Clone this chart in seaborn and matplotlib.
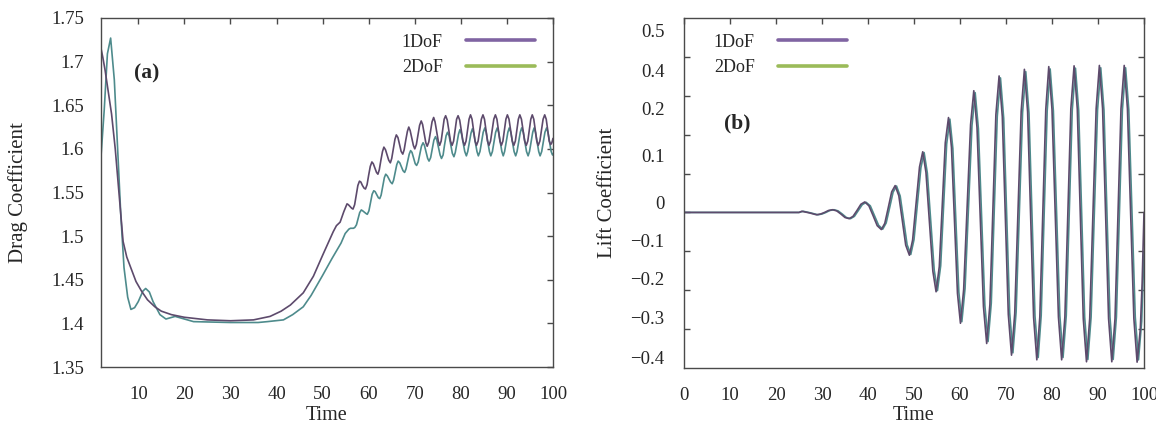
import matplotlib
matplotlib.use("Agg")
import matplotlib.pyplot as plt
import seaborn as sns
import pandas as pd
from matplotlib.lines import Line2D
from matplotlib.ticker import FixedLocator

# ---------------- data, (time, value) pairs ----------------
series_names = ["1DoF", "2DoF"]

drag_1dof = [
    (1.8, 1.718), (2.3, 1.705), (2.8, 1.690), (3.5, 1.665), (4.2, 1.640), (5.0, 1.600),
    (5.6, 1.563), (6.2, 1.525), (6.7, 1.494), (7.5, 1.476), (8.5, 1.462), (9.5, 1.448),
    (10.7, 1.437), (12.0, 1.427), (13.6, 1.419), (15.0, 1.414), (17.2, 1.410),
    (20.0, 1.407), (25.0, 1.404), (30.0, 1.403), (35.0, 1.404), (38.6, 1.408),
    (41.0, 1.414), (43.0, 1.421), (45.8, 1.435), (48.0, 1.454), (50.0, 1.478),
    (52.3, 1.505), (53.0, 1.512), (53.8, 1.516), (54.6, 1.528), (55.3, 1.537),
    (55.6, 1.536), (55.95, 1.534), (56.3, 1.532), (56.6, 1.531), (56.95, 1.536),
    (57.3, 1.547), (57.65, 1.558), (58.0, 1.563), (58.3, 1.562), (58.65, 1.558),
    (59.0, 1.555), (59.3, 1.554), (59.65, 1.559), (60.0, 1.570), (60.35, 1.580),
    (60.7, 1.585), (61.0, 1.583), (61.35, 1.578), (61.7, 1.573), (62.0, 1.571),
    (62.3, 1.576), (62.65, 1.587), (63.0, 1.597), (63.3, 1.602), (63.65, 1.599),
    (64.0, 1.593), (64.35, 1.587), (64.7, 1.584), (65.0, 1.589), (65.35, 1.600),
    (65.7, 1.611), (66.0, 1.616), (66.35, 1.613), (66.7, 1.605), (67.05, 1.597),
    (67.4, 1.594), (67.7, 1.599), (68.05, 1.610), (68.4, 1.620), (68.7, 1.625),
    (69.0, 1.621), (69.35, 1.6125), (69.7, 1.604), (70.0, 1.600), (70.35, 1.605),
    (70.7, 1.616), (71.05, 1.627), (71.4, 1.632), (71.7, 1.628), (72.05, 1.6175),
    (72.4, 1.607), (72.7, 1.603), (73.05, 1.608), (73.4, 1.6195), (73.75, 1.631),
    (74.1, 1.636), (74.4, 1.631), (74.75, 1.620), (75.1, 1.609), (75.4, 1.604),
    (75.73, 1.609), (76.05, 1.621), (76.38, 1.634), (76.7, 1.638), (77.05, 1.633),
    (77.4, 1.621), (77.75, 1.609), (78.1, 1.604), (78.43, 1.609), (78.75, 1.621),
    (79.08, 1.634), (79.4, 1.638), (79.75, 1.633), (80.1, 1.621), (80.45, 1.609),
    (80.8, 1.604), (81.13, 1.609), (81.45, 1.6215), (81.78, 1.634), (82.1, 1.639),
    (82.43, 1.634), (82.75, 1.6215), (83.08, 1.609), (83.4, 1.604), (83.75, 1.609),
    (84.1, 1.6215), (84.45, 1.634), (84.8, 1.639), (85.13, 1.634), (85.45, 1.6215),
    (85.78, 1.609), (86.1, 1.604), (86.45, 1.609), (86.8, 1.6215), (87.15, 1.634),
    (87.5, 1.639), (87.83, 1.634), (88.15, 1.6215), (88.48, 1.609), (88.8, 1.604),
    (89.13, 1.609), (89.45, 1.6215), (89.78, 1.634), (90.1, 1.639), (90.45, 1.634),
    (90.8, 1.6215), (91.15, 1.609), (91.5, 1.604), (91.83, 1.609), (92.15, 1.6215),
    (92.48, 1.634), (92.8, 1.639), (93.15, 1.634), (93.5, 1.6215), (93.85, 1.609),
    (94.2, 1.604), (94.53, 1.609), (94.85, 1.6215), (95.18, 1.634), (95.5, 1.639),
    (95.83, 1.634), (96.15, 1.6215), (96.48, 1.609), (96.8, 1.604), (97.15, 1.609),
    (97.5, 1.6215), (97.85, 1.634), (98.2, 1.639), (98.53, 1.634), (98.85, 1.6215),
    (99.18, 1.609), (99.5, 1.605), (99.75, 1.607), (100.0, 1.612),
]

drag_2dof = [
    (1.8, 1.583), (2.6, 1.644), (3.3, 1.709), (4.0, 1.727), (4.8, 1.679), (5.5, 1.602),
    (6.2, 1.525), (6.9, 1.464), (7.7, 1.430), (8.4, 1.416), (9.2, 1.418), (10.0, 1.425),
    (11.0, 1.437), (11.6, 1.440), (12.4, 1.436), (13.2, 1.425), (14.7, 1.410),
    (16.0, 1.405), (18.0, 1.408), (20.0, 1.405), (22.0, 1.402), (30.0, 1.401),
    (36.0, 1.401), (38.0, 1.402), (41.5, 1.404), (43.5, 1.410), (45.8, 1.419),
    (47.5, 1.432), (50.0, 1.455), (52.0, 1.474), (54.0, 1.492), (54.9, 1.503),
    (55.7, 1.508), (56.05, 1.509), (56.35, 1.509), (56.7, 1.509), (57.0, 1.510),
    (57.35, 1.513), (57.7, 1.520), (58.05, 1.527), (58.4, 1.530), (58.7, 1.529),
    (59.05, 1.5275), (59.4, 1.526), (59.7, 1.525), (60.05, 1.529), (60.4, 1.5385),
    (60.75, 1.548), (61.1, 1.552), (61.4, 1.551), (61.75, 1.5475), (62.1, 1.544),
    (62.4, 1.543), (62.7, 1.547), (63.05, 1.557), (63.4, 1.567), (63.7, 1.571),
    (64.05, 1.569), (64.4, 1.5655), (64.75, 1.562), (65.1, 1.560), (65.4, 1.564),
    (65.75, 1.573), (66.1, 1.582), (66.4, 1.586), (66.75, 1.584), (67.1, 1.5795),
    (67.45, 1.575), (67.8, 1.573), (68.1, 1.577), (68.45, 1.5855), (68.8, 1.594),
    (69.1, 1.598), (69.4, 1.596), (69.75, 1.5895), (70.1, 1.583), (70.4, 1.581),
    (70.75, 1.585), (71.1, 1.594), (71.45, 1.603), (71.8, 1.607), (72.1, 1.604),
    (72.45, 1.5965), (72.8, 1.589), (73.1, 1.586), (73.45, 1.590), (73.8, 1.600),
    (74.15, 1.610), (74.5, 1.614), (74.8, 1.610), (75.15, 1.6015), (75.5, 1.593),
    (75.8, 1.589), (76.15, 1.593), (76.45, 1.604), (76.8, 1.615), (77.1, 1.619),
    (77.45, 1.615), (77.8, 1.605), (78.15, 1.595), (78.5, 1.591), (78.8, 1.596),
    (79.15, 1.6065), (79.5, 1.617), (79.8, 1.622), (80.15, 1.617), (80.5, 1.607),
    (80.85, 1.597), (81.2, 1.592), (81.5, 1.597), (81.85, 1.6075), (82.2, 1.618),
    (82.5, 1.623), (82.8, 1.618), (83.15, 1.6075), (83.5, 1.597), (83.8, 1.592),
    (84.15, 1.597), (84.5, 1.608), (84.85, 1.619), (85.2, 1.624), (85.5, 1.619),
    (85.85, 1.608), (86.2, 1.597), (86.5, 1.592), (86.85, 1.597), (87.2, 1.608),
    (87.55, 1.619), (87.9, 1.624), (88.2, 1.619), (88.55, 1.608), (88.9, 1.597),
    (89.2, 1.592), (89.5, 1.597), (89.85, 1.608), (90.2, 1.619), (90.5, 1.624),
    (90.85, 1.619), (91.2, 1.608), (91.55, 1.597), (91.9, 1.592), (92.2, 1.597),
    (92.55, 1.608), (92.9, 1.619), (93.2, 1.624), (93.55, 1.619), (93.9, 1.608),
    (94.25, 1.597), (94.6, 1.592), (94.9, 1.597), (95.25, 1.608), (95.6, 1.619),
    (95.9, 1.624), (96.2, 1.619), (96.55, 1.608), (96.9, 1.597), (97.2, 1.592),
    (97.55, 1.597), (97.9, 1.608), (98.25, 1.619), (98.6, 1.624), (98.9, 1.619),
    (99.25, 1.608), (99.6, 1.597), (99.9, 1.593), (100.0, 1.594),
]

lift_1dof = [
    (0.0, 0.0), (25.0, 0.0), (25.6, 0.003), (27.2, -0.001), (28.8, -0.006), (29.7, -0.004),
    (30.55, 0.0), (31.4, 0.005), (32.3, 0.007), (33.2, 0.004), (34.1, -0.004),
    (35.0, -0.013), (35.9, -0.016), (36.75, -0.010), (37.6, 0.005), (38.45, 0.021),
    (39.3, 0.027), (40.2, 0.017), (41.1, -0.008), (42.0, -0.034), (42.9, -0.044),
    (43.65, -0.028), (44.4, 0.012), (45.15, 0.053), (45.9, 0.069), (46.7, 0.043),
    (47.45, -0.020), (48.2, -0.084), (49.0, -0.110), (49.7, -0.071), (50.45, 0.023),
    (51.2, 0.117), (51.9, 0.156), (52.6, 0.103), (53.35, -0.024), (54.1, -0.151),
    (54.8, -0.204), (55.5, -0.139), (56.15, 0.020), (56.8, 0.179), (57.5, 0.244),
    (58.15, 0.167), (58.8, -0.021), (59.45, -0.208), (60.1, -0.285), (60.8, -0.198),
    (61.55, 0.014), (62.3, 0.226), (63.0, 0.313), (63.7, 0.218), (64.4, -0.012),
    (65.1, -0.242), (65.8, -0.337), (66.5, -0.237), (67.15, 0.007), (67.8, 0.251),
    (68.5, 0.351), (69.2, 0.246), (69.85, -0.008), (70.5, -0.262), (71.2, -0.367),
    (71.9, -0.260), (72.6, 0.0), (73.3, 0.260), (74.0, 0.368), (74.7, 0.259),
    (75.35, -0.006), (76.0, -0.270), (76.7, -0.379), (77.35, -0.269), (78.0, -0.002),
    (78.65, 0.265), (79.3, 0.375), (80.0, 0.265), (80.7, -0.002), (81.4, -0.269),
    (82.1, -0.379), (82.8, -0.269), (83.45, -0.001), (84.1, 0.267), (84.8, 0.377),
    (85.5, 0.266), (86.15, -0.004), (86.8, -0.273), (87.5, -0.384), (88.2, -0.273),
    (88.9, -0.003), (89.6, 0.267), (90.3, 0.378), (91.0, 0.267), (91.65, -0.003),
    (92.3, -0.273), (93.0, -0.384), (93.7, -0.273), (94.35, -0.003), (95.0, 0.267),
    (95.7, 0.378), (96.4, 0.267), (97.1, -0.004), (97.8, -0.273), (98.5, -0.385),
    (99.2, -0.300), (99.6, -0.180), (100.0, 0.0),
]

lift_2dof = [
    (0.0, 0.0), (25.0, 0.0), (25.9, 0.003), (27.5, -0.001), (29.1, -0.006), (30.0, -0.004),
    (30.85, 0.0), (31.7, 0.005), (32.6, 0.007), (33.5, 0.004), (34.4, -0.004),
    (35.3, -0.013), (36.2, -0.016), (37.05, -0.010), (37.9, 0.005), (38.75, 0.020),
    (39.6, 0.026), (40.5, 0.017), (41.4, -0.008), (42.3, -0.033), (43.2, -0.043),
    (43.95, -0.027), (44.7, 0.012), (45.45, 0.052), (46.2, 0.068), (47.0, 0.042),
    (47.75, -0.020), (48.5, -0.083), (49.3, -0.108), (50.0, -0.070), (50.75, 0.023),
    (51.5, 0.115), (52.2, 0.154), (52.9, 0.101), (53.65, -0.024), (54.4, -0.149),
    (55.1, -0.201), (55.8, -0.137), (56.45, 0.020), (57.1, 0.176), (57.8, 0.240),
    (58.45, 0.164), (59.1, -0.021), (59.75, -0.205), (60.4, -0.281), (61.1, -0.195),
    (61.85, 0.014), (62.6, 0.223), (63.3, 0.308), (64.0, 0.215), (64.7, -0.012),
    (65.4, -0.238), (66.1, -0.332), (66.8, -0.233), (67.45, 0.007), (68.1, 0.247),
    (68.8, 0.346), (69.5, 0.242), (70.15, -0.008), (70.8, -0.258), (71.5, -0.361),
    (72.2, -0.256), (72.9, 0.0), (73.6, 0.256), (74.3, 0.362), (75.0, 0.255),
    (75.65, -0.006), (76.3, -0.266), (77.0, -0.373), (77.65, -0.265), (78.3, -0.002),
    (78.95, 0.261), (79.6, 0.369), (80.3, 0.261), (81.0, -0.002), (81.7, -0.265),
    (82.4, -0.373), (83.1, -0.265), (83.75, -0.001), (84.4, 0.263), (85.1, 0.371),
    (85.8, 0.262), (86.45, -0.004), (87.1, -0.269), (87.8, -0.378), (88.5, -0.269),
    (89.2, -0.003), (89.9, 0.263), (90.6, 0.372), (91.3, 0.263), (91.95, -0.003),
    (92.6, -0.269), (93.3, -0.378), (94.0, -0.269), (94.65, -0.003), (95.3, 0.263),
    (96.0, 0.372), (96.7, 0.263), (97.4, -0.004), (98.1, -0.269), (98.8, -0.379),
    (99.5, -0.280), (100.0, -0.100),
]

drag_yticks = [1.35, 1.40, 1.45, 1.50, 1.55, 1.60, 1.65, 1.70, 1.75]
drag_yticklabels = ["1.35", "1.4", "1.45", "1.5", "1.55", "1.6", "1.65", "1.7", "1.75"]
drag_xticks = [10, 20, 30, 40, 50, 60, 70, 80, 90, 100]
lift_xticks = [0, 10, 20, 30, 40, 50, 60, 70, 80, 90, 100]
# tick labels of panel (b) sit where the reference prints them
lift_ylabel_pos = [0.467, 0.364, 0.267, 0.146, 0.026, -0.072, -0.169, -0.269, -0.374]
lift_yticklabels = ["0.5", "0.4", "0.2", "0.1", "0", "\u22120.1", "\u22120.2",
                    "\u22120.3", "\u22120.4"]
lift_tickmarks = [-0.3, -0.2, -0.1, 0.0, 0.1, 0.2, 0.3, 0.4]


def frame(pairs, name):
    t, v = zip(*pairs)
    return pd.DataFrame({"Time": t, "C": v, "case": name})


# ---------------- style ----------------
sns.set_style("white")
plt.rcParams["font.family"] = ["Liberation Serif", "DejaVu Serif"]
plt.rcParams["axes.unicode_minus"] = True

line_colors = {"1DoF": "#5d4a6c", "2DoF": "#4e8b8c"}
legend_colors = {"1DoF": "#8064a2", "2DoF": "#9bbb59"}
spine_color = "#4a4a4a"
tick_fs = 13.5

fig = plt.figure(figsize=(11.56, 4.26), dpi=100)
W, H = 1156, 426
ax1 = fig.add_axes([100.5 / W, 1 - 367 / H, (553 - 100.5) / W, (367 - 18) / H])
ax2 = fig.add_axes([684 / W, 1 - 368 / H, (1144 - 684) / W, (368 - 18) / H])

drag_df = pd.concat([frame(drag_1dof, "1DoF"), frame(drag_2dof, "2DoF")])
lift_df = pd.concat([frame(lift_1dof, "1DoF"), frame(lift_2dof, "2DoF")])

for ax, df in ((ax1, drag_df), (ax2, lift_df)):
    sns.lineplot(data=df, x="Time", y="C", hue="case", hue_order=["2DoF", "1DoF"],
                 palette=line_colors, estimator=None, sort=False, linewidth=1.2,
                 legend=False, ax=ax)
    for s in ax.spines.values():
        s.set_color(spine_color)
        s.set_linewidth(1.0)

# ---- panel (a)
ax1.set_xlim(1.8, 100)
ax1.set_ylim(1.35, 1.75)
ax1.set_xticks(drag_xticks)
ax1.set_xticklabels([str(v) for v in drag_xticks])
ax1.set_yticks(drag_yticks)
ax1.set_yticklabels(drag_yticklabels)
ax1.tick_params(axis="both", which="major", direction="in", length=4, width=1,
                color=spine_color, top=True, right=True, labelsize=tick_fs)
ax1.tick_params(axis="y", pad=12)
ax1.tick_params(axis="x", pad=13.5)
ax1.set_ylabel("Drag Coefficient", fontsize=15)
ax1.set_xlabel("Time", fontsize=14.5)
ax1.yaxis.set_label_coords(-0.160, 0.5)
ax1.xaxis.set_label_coords(0.5, -0.112)
ax1.text(0.103, 0.842, "(a)", transform=ax1.transAxes, fontsize=15.5,
         fontweight="bold", ha="center", va="center")

# ---- panel (b)
ax2.set_xlim(0, 100)
ax2.set_ylim(-0.4, 0.5)
ax2.set_xticks(lift_xticks)
ax2.set_xticklabels([str(v) for v in lift_xticks])
ax2.yaxis.set_major_locator(FixedLocator(lift_ylabel_pos))
ax2.set_yticklabels(lift_yticklabels)
ax2.yaxis.set_minor_locator(FixedLocator(lift_tickmarks))
ax2.tick_params(axis="x", which="major", direction="in", length=4, width=1,
                color=spine_color, top=True, labelsize=tick_fs, pad=13.5)
ax2.tick_params(axis="y", which="major", length=0, labelsize=tick_fs, pad=14)
ax2.tick_params(axis="y", which="minor", direction="in", length=4, width=1,
                color=spine_color, left=True, right=True)
ax2.set_ylabel("Lift Coefficient", fontsize=15)
ax2.set_xlabel("Time", fontsize=14.5)
ax2.yaxis.set_label_coords(-0.146, 0.5)
ax2.xaxis.set_label_coords(0.5, -0.109)
ax2.text(0.115, 0.70, "(b)", transform=ax2.transAxes, fontsize=15.5,
         fontweight="bold", ha="center", va="center")

# ---- legends
handles = [Line2D([], [], color=legend_colors[n], linewidth=2.6) for n in series_names]
leg_kw = dict(frameon=False, markerfirst=False, handlelength=3.8, handletextpad=1.3,
              labelspacing=0.45, borderaxespad=0, borderpad=0, fontsize=13)
ax1.legend(handles, series_names, loc="upper right", bbox_to_anchor=(0.96, 0.955), **leg_kw)
ax2.legend(handles, series_names, loc="upper left", bbox_to_anchor=(0.065, 0.955), **leg_kw)

fig.savefig("out.png", dpi=100)
